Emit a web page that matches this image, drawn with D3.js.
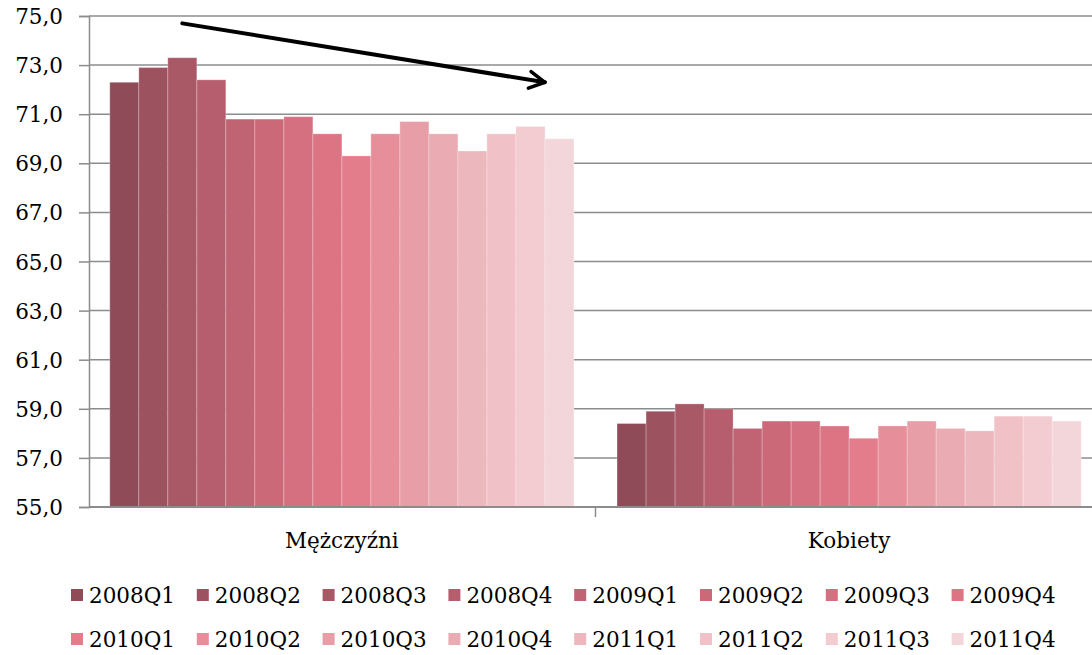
<!DOCTYPE html>
<html>
<head>
<meta charset="utf-8">
<script src="https://cdn.jsdelivr.net/npm/d3@7"></script>
<style>
   body { margin: 0; background: #fff; }
   svg { display: block; }
   text { font-family: "DejaVu Serif", "Liberation Serif", serif; fill: #000; }
</style>
</head>
<body>
<div id="chart"></div>
<script>
//--------------------------------------------------------------
// DATA
//--------------------------------------------------------------
var categories = ["Mężczyźni", "Kobiety"];
var quarters = ["2008Q1", "2008Q2", "2008Q3", "2008Q4", "2009Q1", "2009Q2", "2009Q3", "2009Q4",
   "2010Q1", "2010Q2", "2010Q3", "2010Q4", "2011Q1", "2011Q2", "2011Q3", "2011Q4"];
var menValues = [72.3, 72.9, 73.3, 72.4, 70.8, 70.8, 70.9, 70.2, 69.3, 70.2, 70.7, 70.2, 69.5, 70.2, 70.5, 70.0];
var womenValues = [58.4, 58.9, 59.2, 59.0, 58.2, 58.5, 58.5, 58.3, 57.8, 58.3, 58.5, 58.2, 58.1, 58.7, 58.7, 58.5];
var yTicks = [55, 57, 59, 61, 63, 65, 67, 69, 71, 73, 75];
var colors = ["#8f4b58", "#9d5260", "#a95866", "#b65e6e", "#c06372", "#cb6979", "#d57080", "#dd7484",
   "#e37d8b", "#e68e99", "#e89ea7", "#ebabb3", "#edb7be", "#f0c2c8", "#f2ccd1", "#f3d6da"];
// trend arrow annotation (from / to)
var arrowFrom = { category: "Mężczyźni", quarter: "2008Q3", value: 74.7 };
var arrowTo = { category: "Mężczyźni", quarter: "2011Q4", value: 72.3 };

//--------------------------------------------------------------
// SIZE
//--------------------------------------------------------------
var width = 1092;
var height = 655;
var plot = { left: 89, right: 1102, top: 16, bottom: 507 };
var fontSize = 21.5;

var svg = d3.select("#chart").append("svg")
   .attr("width", width)
   .attr("height", height);

// scales
var x0 = d3.scaleBand()
   .domain(categories)
   .range([plot.left, plot.right])
   .paddingInner(0.085)
   .paddingOuter(0.041);

var x1 = d3.scaleBand()
   .domain(quarters)
   .range([0, x0.bandwidth()]);

var y = d3.scaleLinear()
   .domain([55, 75])
   .range([plot.bottom, plot.top]);

var grey = "#8c8c8c";

// gridlines
svg.append("g")
   .selectAll("line")
   .data(yTicks.slice(1))
   .enter()
   .append("line")
   .attr("x1", plot.left)
   .attr("x2", width)
   .attr("y1", d => y(d))
   .attr("y2", d => y(d))
   .attr("stroke", grey)
   .attr("stroke-width", 1.5);

// bars
var series = [menValues, womenValues];
var groups = svg.append("g")
   .selectAll("g")
   .data(categories)
   .enter()
   .append("g")
   .attr("transform", d => `translate(${x0(d)},0)`);

groups.selectAll("rect")
   .data((d, i) => series[i].map((v, j) => ({ q: quarters[j], v: v, c: colors[j] })))
   .enter()
   .append("rect")
   .attr("x", d => x1(d.q))
   .attr("width", x1.bandwidth())
   .attr("y", d => y(d.v))
   .attr("height", d => y(55) - y(d.v))
   .attr("fill", d => d.c)
   .attr("stroke", "rgba(255,255,255,0.25)")
   .attr("stroke-width", 1);

// y axis
var leftAxis = d3.axisLeft(y)
   .tickValues(yTicks)
   .tickSize(10)
   .tickPadding(16)
   .tickFormat(d => d3.format(".1f")(d).replace(".", ","));

var yAxis = svg.append("g")
   .attr("transform", `translate(${plot.left},0)`)
   .call(leftAxis);
yAxis.select(".domain").attr("stroke", grey).attr("stroke-width", 1.5);
yAxis.selectAll(".tick line").attr("stroke", grey).attr("stroke-width", 1.5);
yAxis.selectAll(".tick text")
   .attr("font-size", fontSize)
   .attr("dy", "0.35em")
   .style("font-family", "DejaVu Serif, serif");

// x axis
svg.append("line")
   .attr("x1", plot.left)
   .attr("x2", width)
   .attr("y1", plot.bottom)
   .attr("y2", plot.bottom)
   .attr("stroke", grey)
   .attr("stroke-width", 2);

// category separator tick
var sepX = (x0(categories[0]) + x0.bandwidth() + x0(categories[1])) / 2;
svg.append("line")
   .attr("x1", sepX).attr("x2", sepX)
   .attr("y1", plot.bottom).attr("y2", plot.bottom + 10)
   .attr("stroke", grey)
   .attr("stroke-width", 1.5);

svg.append("g")
   .selectAll("text")
   .data(categories)
   .enter()
   .append("text")
   .attr("x", d => x0(d) + x0.bandwidth() / 2)
   .attr("y", 548)
   .attr("text-anchor", "middle")
   .attr("font-size", fontSize)
   .text(d => d);

// arrow
svg.append("defs").append("marker")
   .attr("id", "head")
   .attr("viewBox", "0 0 10 10")
   .attr("refX", 8.5)
   .attr("refY", 5)
   .attr("markerWidth", 5.5)
   .attr("markerHeight", 5.5)
   .attr("markerUnits", "strokeWidth")
   .attr("orient", "auto")
   .append("path")
   .attr("d", "M1.5,1.2 L8.5,5 L1.5,8.8")
   .attr("fill", "none")
   .attr("stroke", "#000")
   .attr("stroke-width", 1.6)
   .attr("stroke-linecap", "round")
   .attr("stroke-linejoin", "round");

svg.append("line")
   .attr("x1", x0(arrowFrom.category) + x1(arrowFrom.quarter) + x1.bandwidth() / 2)
   .attr("y1", y(arrowFrom.value))
   .attr("x2", x0(arrowTo.category) + x1(arrowTo.quarter))
   .attr("y2", y(arrowTo.value))
   .attr("stroke", "#000")
   .attr("stroke-width", 4)
   .attr("stroke-linecap", "round")
   .attr("marker-end", "url(#head)");

// legend
var legend = svg.append("g")
   .selectAll("g")
   .data(quarters)
   .enter()
   .append("g")
   .attr("transform", (d, i) => `translate(${71 + (i % 8) * 125.8},${595 + Math.floor(i / 8) * 44})`);

legend.append("rect")
   .attr("x", 0)
   .attr("y", -6)
   .attr("width", 12)
   .attr("height", 12)
   .attr("fill", (d, i) => colors[i]);

legend.append("text")
   .attr("x", 18)
   .attr("y", 7.5)
   .attr("font-size", fontSize)
   .text(d => d);
</script>
</body>
</html>
